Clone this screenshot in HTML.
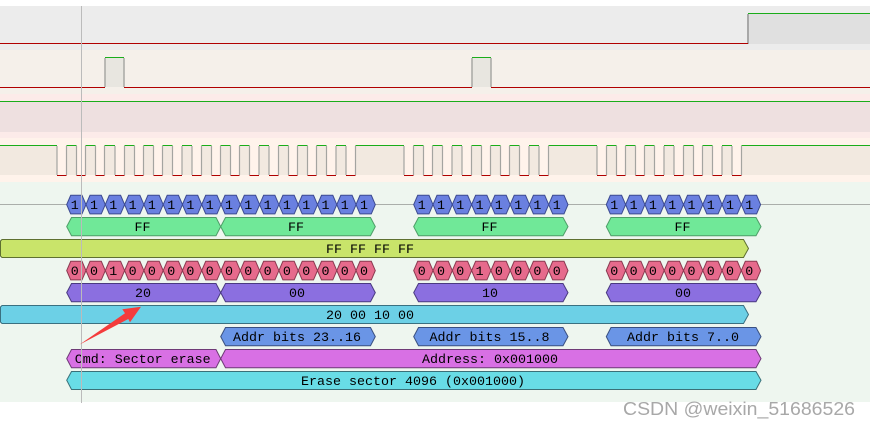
<!DOCTYPE html>
<html><head><meta charset="utf-8"><style>html,body{margin:0;padding:0;background:#fff}svg{display:block}text{font-family:"Liberation Mono",monospace;font-size:13.33px;fill:#000}.c{text-anchor:middle}</style></head><body>
<svg xmlns="http://www.w3.org/2000/svg" width="870" height="427" viewBox="0 0 870 427">
<defs>
<polygon id="h" points="0,9.3 4,0 15.3,0 19.3,9.3 15.3,18.6 4,18.6"/>
</defs>
<rect width="870" height="427" fill="#fff"/>
<rect y="6" width="870" height="44" fill="#ececec"/>
<rect y="50" width="870" height="44" fill="#f5f0ea"/>
<rect y="94" width="870" height="44" fill="#fcebe9"/>
<rect y="102" width="870" height="30" fill="#eee0e0"/>
<rect y="138" width="870" height="44" fill="#fff3eb"/>
<rect y="182" width="870" height="220" fill="#eef6ef"/>

<rect x="748" y="14" width="122" height="30" fill="#e0e0e0"/>
<path d="M748 14V44" stroke="#a8a8a8" stroke-width="2"/>
<path d="M0 43.5H748" stroke="#b00000" fill="none"/>
<path d="M748 13.5H870" stroke="#1aad1a" fill="none"/>

<path d="M105 58H124V87H105ZM472 58H491V87H472Z" fill="#e8e6e0"/>
<path d="M105 58V87M124 58V87M472 58V87M491 58V87" stroke="#a8a8a4" stroke-width="1.5"/>
<path d="M0 87.5H105M124 87.5H472M491 87.5H870" stroke="#b00000" fill="none"/>
<path d="M105 57.5H124M472 57.5H491" stroke="#1aad1a" fill="none"/>

<path d="M0 101.5H870" stroke="#1aad1a" fill="none"/>

<path fill="#f2e9e0" d="M0 146H57V175H0ZM66.5 146H76.5V175H66.5ZM85.5 146H95.5V175H85.5ZM104.5 146H115V175H104.5ZM124.5 146H134.5V175H124.5ZM143.5 146H153.5V175H143.5ZM162.5 146H172.5V175H162.5ZM182 146H192V175H182ZM201.5 146H211.5V175H201.5ZM220.5 146H230.5V175H220.5ZM239.5 146H249.5V175H239.5ZM259 146H269V175H259ZM278.5 146H288.5V175H278.5ZM297.5 146H307.5V175H297.5ZM316.5 146H326.5V175H316.5ZM336 146H346V175H336ZM355.5 146H404V175H355.5ZM413.5 146H423.5V175H413.5ZM432.5 146H442.5V175H432.5ZM452 146H462V175H452ZM471.5 146H481.5V175H471.5ZM490.5 146H500.5V175H490.5ZM509.5 146H519.5V175H509.5ZM529 146H539V175H529ZM548.5 146H597V175H548.5ZM606.5 146H616.5V175H606.5ZM625.5 146H635.5V175H625.5ZM644.5 146H654.5V175H644.5ZM664 146H674V175H664ZM683.5 146H693.5V175H683.5ZM702.5 146H712.5V175H702.5ZM722 146H732V175H722ZM741.5 146H870V175H741.5Z"/>
<path stroke="#a4a4a0" stroke-width="1.2" fill="none" d="M57 146V175M66.5 146V175M76.5 146V175M85.5 146V175M95.5 146V175M104.5 146V175M115 146V175M124.5 146V175M134.5 146V175M143.5 146V175M153.5 146V175M162.5 146V175M172.5 146V175M182 146V175M192 146V175M201.5 146V175M211.5 146V175M220.5 146V175M230.5 146V175M239.5 146V175M249.5 146V175M259 146V175M269 146V175M278.5 146V175M288.5 146V175M297.5 146V175M307.5 146V175M316.5 146V175M326.5 146V175M336 146V175M346 146V175M355.5 146V175M404 146V175M413.5 146V175M423.5 146V175M432.5 146V175M442.5 146V175M452 146V175M462 146V175M471.5 146V175M481.5 146V175M490.5 146V175M500.5 146V175M509.5 146V175M519.5 146V175M529 146V175M539 146V175M548.5 146V175M597 146V175M606.5 146V175M616.5 146V175M625.5 146V175M635.5 146V175M644.5 146V175M654.5 146V175M664 146V175M674 146V175M683.5 146V175M693.5 146V175M702.5 146V175M712.5 146V175M722 146V175M732 146V175M741.5 146V175"/>
<path stroke="#1aad1a" fill="none" d="M0 145.5H57M66.5 145.5H76.5M85.5 145.5H95.5M104.5 145.5H115M124.5 145.5H134.5M143.5 145.5H153.5M162.5 145.5H172.5M182 145.5H192M201.5 145.5H211.5M220.5 145.5H230.5M239.5 145.5H249.5M259 145.5H269M278.5 145.5H288.5M297.5 145.5H307.5M316.5 145.5H326.5M336 145.5H346M355.5 145.5H404M413.5 145.5H423.5M432.5 145.5H442.5M452 145.5H462M471.5 145.5H481.5M490.5 145.5H500.5M509.5 145.5H519.5M529 145.5H539M548.5 145.5H597M606.5 145.5H616.5M625.5 145.5H635.5M644.5 145.5H654.5M664 145.5H674M683.5 145.5H693.5M702.5 145.5H712.5M722 145.5H732M741.5 145.5H870"/>
<path stroke="#b00000" fill="none" d="M57 175.5H66.5M76.5 175.5H85.5M95.5 175.5H104.5M115 175.5H124.5M134.5 175.5H143.5M153.5 175.5H162.5M172.5 175.5H182M192 175.5H201.5M211.5 175.5H220.5M230.5 175.5H239.5M249.5 175.5H259M269 175.5H278.5M288.5 175.5H297.5M307.5 175.5H316.5M326.5 175.5H336M346 175.5H355.5M404 175.5H413.5M423.5 175.5H432.5M442.5 175.5H452M462 175.5H471.5M481.5 175.5H490.5M500.5 175.5H509.5M519.5 175.5H529M539 175.5H548.5M597 175.5H606.5M616.5 175.5H625.5M635.5 175.5H644.5M654.5 175.5H664M674 175.5H683.5M693.5 175.5H702.5M712.5 175.5H722M732 175.5H741.5"/>

<path d="M0 204.5H870" stroke="#aaaeaa" fill="none"/>

<!-- bits 1 -->
<g fill="#6a80e0" stroke="#3c4a90" stroke-width="1">
<use href="#h" x="66.7" y="195.3"/><use href="#h" x="86" y="195.3"/><use href="#h" x="105.3" y="195.3"/><use href="#h" x="124.6" y="195.3"/><use href="#h" x="143.9" y="195.3"/><use href="#h" x="163.2" y="195.3"/><use href="#h" x="182.4" y="195.3"/><use href="#h" x="201.7" y="195.3"/><use href="#h" x="221" y="195.3"/><use href="#h" x="240.3" y="195.3"/><use href="#h" x="259.6" y="195.3"/><use href="#h" x="278.9" y="195.3"/><use href="#h" x="298.2" y="195.3"/><use href="#h" x="317.5" y="195.3"/><use href="#h" x="336.8" y="195.3"/><use href="#h" x="356" y="195.3"/>
<use href="#h" x="413.7" y="195.3"/><use href="#h" x="433" y="195.3"/><use href="#h" x="452.3" y="195.3"/><use href="#h" x="471.6" y="195.3"/><use href="#h" x="490.9" y="195.3"/><use href="#h" x="510.2" y="195.3"/><use href="#h" x="529.4" y="195.3"/><use href="#h" x="548.7" y="195.3"/>
<use href="#h" x="606.3" y="195.3"/><use href="#h" x="625.6" y="195.3"/><use href="#h" x="644.9" y="195.3"/><use href="#h" x="664.2" y="195.3"/><use href="#h" x="683.5" y="195.3"/><use href="#h" x="702.8" y="195.3"/><use href="#h" x="722" y="195.3"/><use href="#h" x="741.3" y="195.3"/>
</g>
<text y="209" x="70.7 90 109.3 128.6 147.9 167.2 186.4 205.7 225 244.3 263.6 282.9 302.2 321.5 340.8 360 417.7 437 456.3 475.6 494.9 514.2 533.4 552.7 610.3 629.6 648.9 668.2 687.5 706.8 726 745.3">11111111111111111111111111111111</text>

<!-- FF bytes -->
<g fill="#70e898" stroke="#4e9e68">
<polygon points="66.7,226.6 71.5,217.5 216,217.5 220.7,226.6 216,235.7 71.5,235.7"/>
<polygon points="220.7,226.6 225.5,217.5 370.5,217.5 375.3,226.6 370.5,235.7 225.5,235.7"/>
<polygon points="413.7,226.6 418.5,217.5 563,217.5 568,226.6 563,235.7 418.5,235.7"/>
<polygon points="606.3,226.6 611,217.5 756,217.5 761,226.6 756,235.7 611,235.7"/>
</g>
<text class="c" x="142.5" y="231">FF</text><text class="c" x="296" y="231">FF</text><text class="c" x="489.5" y="231">FF</text><text class="c" x="682.5" y="231">FF</text>

<!-- all FF -->
<path d="M2 239.5H743.5L748.5 248.5L743.5 257.5H2L0.5 256V241Z" fill="#c9e46a" stroke="#5e7030"/>
<text class="c" x="370" y="253">FF FF FF FF</text>

<!-- bits 0 -->
<g fill="#e66a8c" stroke="#8a3a50">
<use href="#h" x="66.7" y="261.3"/><use href="#h" x="86" y="261.3"/><use href="#h" x="105.3" y="261.3"/><use href="#h" x="124.6" y="261.3"/><use href="#h" x="143.9" y="261.3"/><use href="#h" x="163.2" y="261.3"/><use href="#h" x="182.4" y="261.3"/><use href="#h" x="201.7" y="261.3"/><use href="#h" x="221" y="261.3"/><use href="#h" x="240.3" y="261.3"/><use href="#h" x="259.6" y="261.3"/><use href="#h" x="278.9" y="261.3"/><use href="#h" x="298.2" y="261.3"/><use href="#h" x="317.5" y="261.3"/><use href="#h" x="336.8" y="261.3"/><use href="#h" x="356" y="261.3"/>
<use href="#h" x="413.7" y="261.3"/><use href="#h" x="433" y="261.3"/><use href="#h" x="452.3" y="261.3"/><use href="#h" x="471.6" y="261.3"/><use href="#h" x="490.9" y="261.3"/><use href="#h" x="510.2" y="261.3"/><use href="#h" x="529.4" y="261.3"/><use href="#h" x="548.7" y="261.3"/>
<use href="#h" x="606.3" y="261.3"/><use href="#h" x="625.6" y="261.3"/><use href="#h" x="644.9" y="261.3"/><use href="#h" x="664.2" y="261.3"/><use href="#h" x="683.5" y="261.3"/><use href="#h" x="702.8" y="261.3"/><use href="#h" x="722" y="261.3"/><use href="#h" x="741.3" y="261.3"/>
</g>
<text y="275" x="70.7 90 109.3 128.6 147.9 167.2 186.4 205.7 225 244.3 263.6 282.9 302.2 321.5 340.8 360 417.7 437 456.3 475.6 494.9 514.2 533.4 552.7 610.3 629.6 648.9 668.2 687.5 706.8 726 745.3">00100000000000000001000000000000</text>

<!-- bytes -->
<g fill="#8b6fe0" stroke="#4a3a80">
<polygon points="66.7,292.6 71.5,283.5 216,283.5 220.7,292.6 216,301.7 71.5,301.7"/>
<polygon points="220.7,292.6 225.5,283.5 370.5,283.5 375.3,292.6 370.5,301.7 225.5,301.7"/>
<polygon points="413.7,292.6 418.5,283.5 563,283.5 568,292.6 563,301.7 418.5,301.7"/>
<polygon points="606.3,292.6 611,283.5 756,283.5 761,292.6 756,301.7 611,301.7"/>
</g>
<text class="c" x="143" y="297">20</text><text class="c" x="297" y="297">00</text><text class="c" x="490" y="297">10</text><text class="c" x="683" y="297">00</text>

<!-- cyan -->
<path d="M2 305.5H743.5L748.5 314.5L743.5 323.5H2L0.5 322V307Z" fill="#6cd0e6" stroke="#3a7080"/>
<text class="c" x="370" y="319">20 00 10 00</text>

<!-- addr bits -->
<g fill="#6a95e6" stroke="#3a5080">
<polygon points="220.7,336.6 225.5,327.5 370.5,327.5 375.3,336.6 370.5,345.7 225.5,345.7"/>
<polygon points="413.7,336.6 418.5,327.5 563,327.5 568,336.6 563,345.7 418.5,345.7"/>
<polygon points="606.3,336.6 611,327.5 756,327.5 761,336.6 756,345.7 611,345.7"/>
</g>
<text class="c" x="297" y="341">Addr bits 23..16</text><text class="c" x="489.5" y="341">Addr bits 15..8</text><text class="c" x="683" y="341">Addr bits 7..0</text>

<!-- cmd / address -->
<g fill="#d870e4" stroke="#6e3a76">
<polygon points="66.7,358.6 71.5,349.5 216,349.5 220.7,358.6 216,367.7 71.5,367.7"/>
<polygon points="220.7,358.6 225.5,349.5 756,349.5 761,358.6 756,367.7 225.5,367.7"/>
</g>
<text class="c" x="142.7" y="363">Cmd: Sector erase</text><text class="c" x="490" y="363">Address: 0x001000</text>

<!-- erase -->
<polygon points="66.7,380.2 71.5,371.5 756,371.5 761,380.2 756,389.5 71.5,389.5" fill="#68dce6" stroke="#3a7078"/>
<text class="c" x="413" y="385">Erase sector 4096 (0x001000)</text>

<!-- cursor -->
<path d="M81.5 6V403" stroke="#bbb" fill="none"/>

<!-- red arrow -->
<polygon points="79.3,344.7 125,313.3 122.3,309.3 141,306.7 130,322.3 128.3,319" fill="#f43c3c"/>

<!-- watermark -->
<text x="623" y="415" textLength="232" lengthAdjust="spacingAndGlyphs" style="font-family:'Liberation Sans',sans-serif;font-size:18.5px;fill:#a8a8a8">CSDN @weixin_51686526</text>
</svg>
</body></html>
